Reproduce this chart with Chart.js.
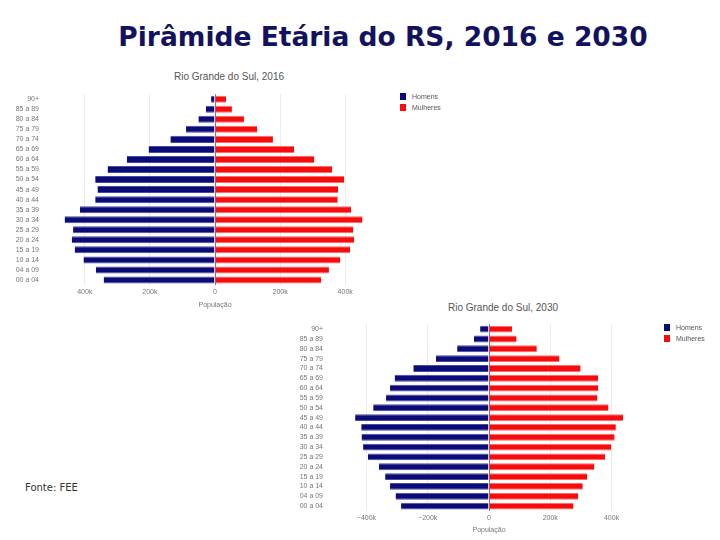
<!DOCTYPE html>
<html lang="pt-br">
<head>
    <meta charset="UTF-8">
    <title>Pirâmide Etária do RS, 2016 e 2030</title>
    <script src="https://cdn.jsdelivr.net/npm/chart.js"></script>
    <style>
        body { margin: 0; width: 720px; height: 540px; background: #fff; position: relative; overflow: hidden; }
        h1 { position: absolute; left: 0; width: 766px; top: 21px; margin: 0; text-align: center; line-height: 32px;
             font-family: "DejaVu Sans", sans-serif; font-weight: bold; font-size: 26.5px; color: #12125e; }
        .fonte { position: absolute; left: 25px; top: 482px; font-family: "DejaVu Sans", sans-serif; font-size: 10px; color: #333; }
        canvas { position: absolute; }
        .titulo { position: absolute; width: 200px; text-align: center; line-height: 12px;
                  font-family: "Liberation Sans", sans-serif; font-size: 10px; color: #555; }
        .legenda { position: absolute; font-family: "Liberation Sans", sans-serif; font-size: 7px; color: #555; }
        .legenda div { height: 10.5px; line-height: 7px; }
        .legenda span { display: inline-block; width: 6px; height: 7px; margin-right: 6px; vertical-align: top; }
    </style>
</head>
<body>
    <h1>Pirâmide Etária do RS, 2016 e 2030</h1>
    <div class="fonte">Fonte: FEE</div>

    <div class="titulo" style="left:129px; top:71px;">Rio Grande do Sul, 2016</div>
    <div class="titulo" style="left:403px; top:302px;">Rio Grande do Sul, 2030</div>

    <canvas id="chart2016" width="456" height="246" style="left:0px; top:67px;"></canvas>
    <canvas id="chart2030" width="425" height="240" style="left:290px; top:298px;"></canvas>

    <div class="legenda" style="left:400px; top:93px;">
        <div><span style="background:#0b0b78"></span>Homens</div>
        <div><span style="background:#f50d0d"></span>Mulheres</div>
    </div>
    <div class="legenda" style="left:664px; top:324px;">
        <div><span style="background:#0b0b78"></span>Homens</div>
        <div><span style="background:#f50d0d"></span>Mulheres</div>
    </div>

    <script>
        // faixas etárias, de cima para baixo
        const faixas = ["90+", "85 a 89", "80 a 84", "75 a 79", "70 a 74", "65 a 69", "60 a 64",
            "55 a 59", "50 a 54", "45 a 49", "40 a 44", "35 a 39", "30 a 34", "25 a 29",
            "20 a 24", "15 a 19", "10 a 14", "04 a 09", "00 a 04"];

        // população em milhares
        const homens2016 = [12, 28, 51, 89, 137, 204, 271, 330, 368, 361, 368, 415, 462, 436, 440, 431, 404, 366, 342];
        const mulheres2016 = [34, 52, 89, 130, 178, 243, 305, 360, 397, 378, 377, 418, 453, 425, 427, 415, 385, 350, 326];
        const homens2030 = [29, 49, 104, 173, 247, 308, 323, 336, 378, 437, 417, 416, 411, 395, 359, 339, 323, 305, 287];
        const mulheres2030 = [75, 90, 156, 230, 299, 356, 357, 354, 390, 438, 414, 410, 399, 379, 344, 321, 306, 291, 276];

        const eixoTicks = [-400000, -200000, 0, 200000, 400000];

        const corHomens = "#0b0b78";
        const corMulheres = "#f50d0d";

        function criaPiramide(id, homens, mulheres, opcoes) {
            const ctx = document.getElementById(id).getContext("2d");
            return new Chart(ctx, {
                type: "bar",
                data: {
                    labels: faixas,
                    datasets: [
                        {
                            label: "Homens",
                            data: homens.map(v => -v * 1000),
                            backgroundColor: corHomens,
                            borderColor: "#4a4aa0",
                            borderWidth: { top: 1, bottom: 1, left: 0, right: 0 },
                            borderSkipped: false
                        },
                        {
                            label: "Mulheres",
                            data: mulheres.map(v => v * 1000),
                            backgroundColor: corMulheres,
                            borderColor: "#ff6a6a",
                            borderWidth: { top: 1, bottom: 1, left: 0, right: 0 },
                            borderSkipped: false
                        }
                    ]
                },
                options: {
                    indexAxis: "y",
                    responsive: false,
                    animation: false,
                    barPercentage: 0.7,
                    categoryPercentage: 1,
                    layout: { padding: { left: 0, right: opcoes.padRight, top: opcoes.padTop, bottom: 0 } },
                    plugins: {
                        legend: { display: false },
                        tooltip: { enabled: false }
                    },
                    scales: {
                        x: {
                            stacked: true,
                            min: -470000,
                            max: 470000,
                            afterBuildTicks: axis => { axis.ticks = eixoTicks.map(v => ({ value: v })); },
                            afterFit: axis => { axis.height = opcoes.xHeight; },
                            grid: {
                                drawTicks: false,
                                color: c => c.tick && c.tick.value === 0 ? "#8c6f8c" : "#ececec"
                            },
                            border: { display: false },
                            ticks: {
                                padding: 3,
                                color: "#777",
                                font: { family: "Liberation Sans", size: 7 },
                                callback: v => opcoes.formata(v)
                            },
                            title: {
                                display: true,
                                text: "População",
                                color: "#777",
                                font: { family: "Liberation Sans", size: 7 },
                                padding: { top: 4, bottom: 4 }
                            }
                        },
                        y: {
                            stacked: true,
                            afterFit: axis => { axis.width = opcoes.yWidth; },
                            grid: { display: false, drawTicks: false },
                            border: { display: false },
                            ticks: {
                                padding: opcoes.yPad,
                                color: "#777",
                                autoSkip: false,
                                font: { family: "Liberation Sans", size: 7 }
                            }
                        }
                    }
                }
            });
        }

        criaPiramide("chart2016", homens2016, mulheres2016, {
            padRight: 88, padTop: 21, xHeight: 28, yWidth: 62, yPad: 23,
            formata: v => v === 0 ? "0" : Math.abs(v / 1000) + "k"
        });

        criaPiramide("chart2030", homens2030, mulheres2030, {
            padRight: 82, padTop: 20, xHeight: 27, yWidth: 55, yPad: 22,
            formata: v => v === 0 ? "0" : (v < 0 ? "\u2212" : "") + Math.abs(v / 1000) + "k"
        });
    </script>
</body>
</html>
